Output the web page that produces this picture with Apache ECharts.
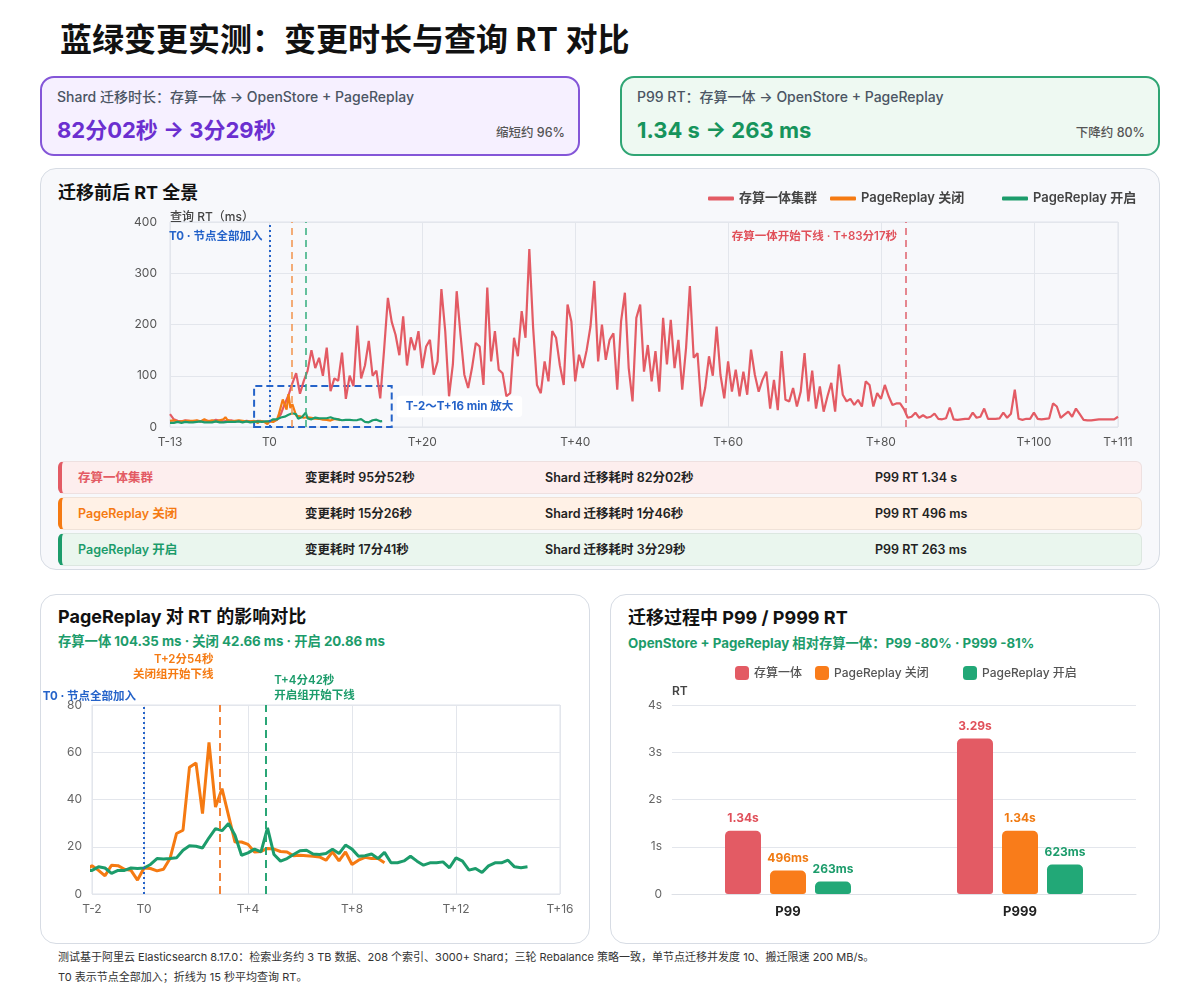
<!DOCTYPE html>
<html>
<head>
<meta charset="utf-8">
<title>蓝绿变更实测</title>
<script src="https://cdn.jsdelivr.net/npm/echarts@6.0.0/dist/echarts.min.js"></script>
<style>
    * { box-sizing: border-box; margin: 0; padding: 0; }
    body { width: 1200px; height: 1000px; background: #fff; position: relative; overflow: hidden;
        font-family: Inter, "Noto Sans CJK SC", sans-serif; color: #1f2328; }
    .abs { position: absolute; }
    .title { left: 60px; top: 21px; font-size: 32px; font-weight: 700; color: #111; line-height: 38px; white-space: nowrap; }
    .kpi { width: 540px; height: 80px; border-radius: 14px; border: 2px solid; top: 76px; }
    .kpi-purple { left: 40px; border-color: #8456d8; background: #f6f0ff; }
    .kpi-green { left: 620px; border-color: #2fa574; background: #eef9f2; }
    .kpi .lab { position: absolute; left: 15px; top: 9px; font-size: 14px; font-weight: 500; color: #4b5563; line-height: 20px; white-space: nowrap; }
    .kpi .val { position: absolute; left: 15px; top: 37px; font-size: 22px; font-weight: 700; line-height: 30px; white-space: nowrap; }
    .kpi .note { position: absolute; right: 13px; top: 47px; font-size: 12.5px; color: #555; font-weight: 500; line-height: 16px; }
    .card { border: 1.5px solid #d7dce4; border-radius: 16px; }
    .sec-title { font-size: 18px; font-weight: 700; color: #111; line-height: 24px; white-space: nowrap; }
    .sub { font-size: 13.3px; font-weight: 700; color: #1c9c6b; line-height: 18px; white-space: nowrap; }
    .row { left: 58px; width: 1084px; height: 33px; border-radius: 6px; border: 1px solid rgba(0, 0, 0, 0.06); border-left-width: 4px; }
    .row span { position: absolute; top: 7px; font-size: 12.5px; font-weight: 600; line-height: 18px; color: #222; white-space: nowrap; }
    .foot { left: 58px; top: 947px; font-size: 11px; line-height: 20px; color: #333; }
</style>
</head>
<body>
<div class="abs title">蓝绿变更实测：变更时长与查询 RT 对比</div>

<div class="abs kpi kpi-purple">
    <div class="lab">Shard 迁移时长：存算一体 → OpenStore + PageReplay</div>
    <div class="val" style="color:#6b2fd0">82分02秒 → 3分29秒</div>
    <div class="note">缩短约 96%</div>
</div>
<div class="abs kpi kpi-green">
    <div class="lab">P99 RT：存算一体 → OpenStore + PageReplay</div>
    <div class="val" style="color:#16945c">1.34 s → 263 ms</div>
    <div class="note">下降约 80%</div>
</div>

<div class="abs card" style="left:40px;top:168px;width:1120px;height:402px;background:#f7f8fb"></div>
<div class="abs sec-title" style="left:58px;top:181px">迁移前后 RT 全景</div>
<div id="rows"></div>
<div id="chartMain" class="abs" style="left:40px;top:168px;width:1120px;height:290px"></div>

<div class="abs card" style="left:40px;top:594px;width:550px;height:350px;background:#fff"></div>
<div class="abs sec-title" style="left:58px;top:605px">PageReplay 对 RT 的影响对比</div>
<div class="abs sub" style="left:58px;top:632px">存算一体 104.35 ms · 关闭 42.66 ms · 开启 20.86 ms</div>
<div id="chartZoom" class="abs" style="left:40px;top:594px;width:550px;height:350px"></div>

<div class="abs card" style="left:610px;top:594px;width:550px;height:350px;background:#fff"></div>
<div class="abs sec-title" style="left:628px;top:606px">迁移过程中 P99 / P999 RT</div>
<div class="abs sub" style="left:628px;top:634px">OpenStore + PageReplay 相对存算一体：P99 -80% · P999 -81%</div>
<div id="chartBar" class="abs" style="left:610px;top:594px;width:550px;height:350px"></div>

<div class="abs foot">
    测试基于阿里云 Elasticsearch 8.17.0：检索业务约 3 TB 数据、208 个索引、3000+ Shard；三轮 Rebalance 策略一致，单节点迁移并发度 10、搬迁限速 200 MB/s。<br>
    T0 表示节点全部加入；折线为 15 秒平均查询 RT。
</div>

<script>
// 15 秒平均 RT（ms），起点 T-13
var T_START = -13;
var MONO_STEP = 0.5;   // 存算一体：每 30 秒取一点
var REPLAY_STEP = 0.25; // PageReplay：每 15 秒一点

var rtMonolith = [
    25, 15, 12, 11, 13, 12, 10, 12, 11, 13,
    12, 11, 14, 12, 11, 12, 13, 11, 12, 10,
    12, 11, 10, 12, 11, 10, 11, 12, 14, 25,
    45, 62, 85, 105, 65, 90, 110, 150, 115, 135,
    100, 155, 70, 95, 90, 145, 55, 100, 80, 198,
    95, 120, 168, 100, 110, 56, 150, 252, 205, 180,
    140, 216, 120, 175, 150, 187, 115, 157, 170, 102,
    128, 269, 187, 60, 122, 265, 180, 102, 76, 115,
    164, 157, 82, 272, 128, 187, 112, 105, 60, 66,
    174, 138, 226, 174, 347, 193, 82, 66, 128, 89,
    187, 174, 120, 82, 239, 206, 89, 141, 115, 150,
    196, 285, 128, 200, 131, 170, 183, 73, 206, 262,
    115, 50, 213, 239, 108, 160, 89, 148, 69, 213,
    122, 209, 115, 170, 73, 154, 275, 135, 144, 40,
    76, 138, 100, 196, 102, 56, 128, 69, 112, 60,
    108, 63, 151, 102, 69, 92, 108, 36, 92, 33,
    148, 53, 50, 76, 40, 69, 144, 50, 110, 36,
    79, 30, 60, 86, 30, 122, 63, 50, 55, 43,
    53, 40, 89, 82, 40, 66, 55, 82, 60, 43,
    46, 46, 35, 18, 20, 28, 18, 23, 18, 20,
    26, 16, 15, 17, 38, 15, 14, 15, 16, 16,
    28, 18, 20, 36, 16, 16, 16, 17, 28, 18,
    26, 73, 16, 14, 16, 16, 28, 16, 15, 16,
    17, 46, 40, 18, 24, 30, 20, 36, 25, 14,
    13, 13, 14, 15, 15, 15, 15, 15, 20
];

var rtReplayOff = [
    12, 11, 13, 12, 10, 12, 11, 13, 12, 11, 12,
    14, 12, 11, 13, 12, 11, 12, 15, 13, 11, 12,
    13, 12, 11, 14, 13, 12, 15, 19, 14, 12, 11,
    13, 12, 14, 13, 11, 12, 10, 11, 12, 11, 10,
    12, 10, 7.7, 12.2, 12, 10.5, 10, 5.9,
    11, 10.8, 9.8, 10.5,
    15, 25.6, 27, 53.7,
    55.5, 34, 64.2, 36.8,
    44.6, 33.3, 22, 22,
    21, 17.8, 18, 19.3,
    19, 18, 17.8, 16.2,
    16.4, 16.2, 16, 15.7,
    14.3, 17.8, 14, 17.8,
    12.5, 14.3, 15.5, 15,
    15, 13.2
];

var rtReplayOn = [
    8, 9, 8, 9, 10, 9, 8, 9, 10, 9, 9,
    10, 9, 8, 10, 9, 11, 10, 9, 8, 9, 10,
    9, 10, 11, 10, 9, 10, 9, 8, 10, 11, 10,
    9, 10, 9, 11, 10, 9, 10, 11, 10, 9, 10,
    10, 11.5, 11, 8.7, 10, 10, 11, 10.8,
    11, 12.5, 15, 14.8,
    15, 15.3, 18.5, 20.4,
    20.2, 19.5, 23.8, 27.7,
    26.8, 29.8, 24.9, 16.4,
    17.4, 19, 17.8, 28,
    16.7, 13.9, 15, 16.7,
    18.3, 18.5, 16.9, 16.7,
    17.1, 19, 17.1, 20.7,
    19, 16, 16.2, 16.9,
    15, 17.6, 13.2, 13.2,
    14, 16, 13.9, 12.2,
    13.2, 13.2, 13.6, 11.1,
    15.3, 13.9, 10.1, 10.8,
    9.1, 11.9, 13.2, 13.2,
    14.3, 11.5, 11.1, 11.5
];

var xTicksMain = [-13, 0, 20, 40, 60, 80, 100, 111];
var xTicksZoom = [-2, 0, 4, 8, 12, 16];

// 关键时间点（分钟）
var evtT0 = 0;
var evtOffDown = 2.9;    // T+2分54秒
var evtOnDown = 4.7;     // T+4分42秒
var evtMonoDown = 83.28; // T+83分17秒

// P99 / P999（秒）
var barCategories = ['P99', 'P999'];
var barMonolith = [1.34, 3.29];
var barReplayOff = [0.496, 1.34];
var barReplayOn = [0.263, 0.623];

// 汇总行
var rowNames = ['存算一体集群', 'PageReplay 关闭', 'PageReplay 开启'];
var rowChange = ['95分52秒', '15分26秒', '17分41秒'];
var rowShard = ['82分02秒', '1分46秒', '3分29秒'];
var rowP99 = ['1.34 s', '496 ms', '263 ms'];

var FONT = 'Inter, "Noto Sans CJK SC", sans-serif';
var RED = '#e35b64', ORANGE = '#f57a12', GREEN = '#1c9c6b', BLUE = '#2563c9';
var rowColors = [RED, ORANGE, GREEN];
var rowBg = ['#fdeeee', '#fff1e6', '#eaf6ee'];

function toPairs(arr, start, step) {
    var out = [];
    for (var i = 0; i < arr.length; i++) {
        out.push([start + i * step, arr[i]]);
    }
    return out;
}

function fmtT(v) {
    if (v === 0) return 'T0';
    return v < 0 ? 'T' + v : 'T+' + v;
}

function fmtRT(v) {
    return v >= 1 ? v.toFixed(2) + 's' : Math.round(v * 1000) + 'ms';
}

// 汇总行
var rowsHtml = '';
for (var r = 0; r < rowNames.length; r++) {
    rowsHtml += '<div class="abs row" style="top:' + (461 + r * 36) + 'px;background:' + rowBg[r] +
        ';border-left-color:' + rowColors[r] + '">' +
        '<span style="left:16px;color:' + rowColors[r] + '">' + rowNames[r] + '</span>' +
        '<span style="left:243px">变更耗时 ' + rowChange[r] + '</span>' +
        '<span style="left:483px">Shard 迁移耗时 ' + rowShard[r] + '</span>' +
        '<span style="left:813px">P99 RT ' + rowP99[r] + '</span></div>';
}
document.getElementById('rows').innerHTML = rowsHtml;

function lineLegend(name, left) {
    return {
        data: [name], left: left, top: 19, icon: 'roundRect', itemWidth: 26, itemHeight: 4,
        textStyle: {color: '#444', fontSize: 13, fontWeight: 600, fontFamily: FONT}
    };
}

function vLine(x, color, type, width, label) {
    return {
        xAxis: x,
        lineStyle: {color: color, type: type, width: width},
        label: label || {show: false}
    };
}

// ---------- 迁移前后 RT 全景 ----------
var mainChart = echarts.init(document.getElementById('chartMain'));
mainChart.setOption({
    animation: false,
    textStyle: {fontFamily: FONT},
    title: {
        text: '查询 RT（ms）', left: 125, top: 38,
        textStyle: {color: '#444', fontSize: 12, fontWeight: 500, fontFamily: FONT}
    },
    legend: [
        lineLegend('存算一体集群', 663),
        lineLegend('PageReplay 关闭', 785),
        lineLegend('PageReplay 开启', 957)
    ],
    grid: {left: 130, right: 42, top: 54, bottom: 31, show: true, borderColor: '#dfe3ea', borderWidth: 1},
    xAxis: {
        type: 'value', min: -13, max: 111,
        axisLine: {show: false},
        axisTick: {show: false, customValues: xTicksMain},
        axisLabel: {customValues: xTicksMain, formatter: fmtT, color: '#555', fontSize: 12, margin: 9},
        splitLine: {show: true, lineStyle: {color: '#e3e6ec'}}
    },
    yAxis: {
        type: 'value', min: 0, max: 400, interval: 100,
        axisLine: {show: false}, axisTick: {show: false},
        axisLabel: {color: '#555', fontSize: 12, margin: 13},
        splitLine: {lineStyle: {color: '#e3e6ec'}}
    },
    series: [
        {
            name: '存算一体集群', type: 'line', showSymbol: false,
            data: toPairs(rtMonolith, T_START, MONO_STEP),
            lineStyle: {color: RED, width: 2.2}, itemStyle: {color: RED},
            markLine: {
                silent: true, symbol: ['none', 'none'],
                data: [
                    vLine(evtT0, BLUE, [2, 3], 2, {
                        show: true, position: 'end', distance: -15, formatter: 'T0 · 节点全部加入',
                        align: 'right', verticalAlign: 'middle', padding: [0, 7, 0, 0],
                        color: BLUE, fontSize: 11.5, fontWeight: 700
                    }),
                    vLine(evtOffDown, '#f2924c', [7, 5], 1.5),
                    vLine(evtOnDown, '#35ad7e', [7, 5], 1.5),
                    vLine(evtMonoDown, '#e0606c', [7, 5], 1.5, {
                        show: true, position: 'end', distance: -15, formatter: '存算一体开始下线 · T+83分17秒',
                        align: 'right', verticalAlign: 'middle', padding: [0, 9, 0, 0],
                        color: '#e0505a', fontSize: 11.5, fontWeight: 600
                    })
                ]
            },
            markArea: {
                silent: true,
                itemStyle: {color: 'rgba(0,0,0,0)', borderColor: BLUE, borderWidth: 2, borderType: [7, 4]},
                label: {
                    show: true, position: 'right', distance: 4, color: BLUE, fontSize: 11.5, fontWeight: 700,
                    backgroundColor: '#ffffff', padding: [5, 9], borderRadius: 4
                },
                data: [[{name: 'T-2～T+16 min 放大', xAxis: -2, yAxis: 0}, {xAxis: 16, yAxis: 80}]]
            }
        },
        {
            name: 'PageReplay 关闭', type: 'line', showSymbol: false,
            data: toPairs(rtReplayOff, T_START, REPLAY_STEP),
            lineStyle: {color: ORANGE, width: 2.2}, itemStyle: {color: ORANGE}
        },
        {
            name: 'PageReplay 开启', type: 'line', showSymbol: false,
            data: toPairs(rtReplayOn, T_START, REPLAY_STEP),
            lineStyle: {color: GREEN, width: 2.2}, itemStyle: {color: GREEN}
        }
    ]
});

// ---------- PageReplay 对 RT 的影响对比 ----------
var zoomChart = echarts.init(document.getElementById('chartZoom'));
zoomChart.setOption({
    animation: false,
    textStyle: {fontFamily: FONT},
    grid: {left: 52, right: 30, top: 111, bottom: 50, show: true, borderColor: '#dfe3ea', borderWidth: 1},
    xAxis: {
        type: 'value', min: -2, max: 16,
        axisLine: {show: false},
        axisTick: {show: false, customValues: xTicksZoom},
        axisLabel: {customValues: xTicksZoom, formatter: fmtT, color: '#666', fontSize: 12, margin: 9},
        splitLine: {show: true, lineStyle: {color: '#e3e6ec'}}
    },
    yAxis: {
        type: 'value', min: 0, max: 80, interval: 20,
        axisLine: {show: false}, axisTick: {show: false},
        axisLabel: {color: '#666', fontSize: 12, margin: 10},
        splitLine: {lineStyle: {color: '#e3e6ec'}}
    },
    series: [
        {
            name: 'PageReplay 关闭', type: 'line', showSymbol: false,
            data: toPairs(rtReplayOff, T_START, REPLAY_STEP),
            lineStyle: {color: ORANGE, width: 3}, itemStyle: {color: ORANGE},
            markLine: {
                silent: true, symbol: ['none', 'none'],
                data: [
                    vLine(evtT0, BLUE, [2, 3], 2, {
                        show: true, position: 'end', distance: 3, formatter: 'T0 · 节点全部加入',
                        align: 'right', verticalAlign: 'bottom', padding: [0, 8, 0, 0],
                        color: BLUE, fontSize: 11.5, fontWeight: 700
                    }),
                    vLine(evtOffDown, '#f2843a', [8, 5], 2, {
                        show: true, position: 'end', distance: 23, formatter: 'T+2分54秒\n关闭组开始下线',
                        align: 'right', verticalAlign: 'bottom', padding: [0, 6, 0, 0], lineHeight: 15,
                        color: ORANGE, fontSize: 11.5, fontWeight: 600
                    }),
                    vLine(evtOnDown, '#2aa676', [8, 5], 2, {
                        show: true, position: 'end', distance: 2, formatter: 'T+4分42秒\n开启组开始下线',
                        align: 'left', verticalAlign: 'bottom', padding: [0, 0, 0, 8], lineHeight: 15,
                        color: GREEN, fontSize: 11.5, fontWeight: 600
                    })
                ]
            }
        },
        {
            name: 'PageReplay 开启', type: 'line', showSymbol: false,
            data: toPairs(rtReplayOn, T_START, REPLAY_STEP),
            lineStyle: {color: GREEN, width: 3}, itemStyle: {color: GREEN}
        }
    ]
});

// ---------- 迁移过程中 P99 / P999 RT ----------
function barSeries(name, data, color, labelColor) {
    return {
        name: name, type: 'bar', data: data, barWidth: 36, barGap: '25%',
        itemStyle: {color: color, borderRadius: [5, 5, 3, 3]},
        label: {
            show: true, position: 'top', distance: 6, color: labelColor, fontSize: 12, fontWeight: 700,
            formatter: function (p) { return fmtRT(p.value); }
        }
    };
}

function barLegend(name, left) {
    return {
        data: [name], left: left, top: 67, icon: 'roundRect', itemWidth: 14, itemHeight: 14, itemGap: 0,
        textStyle: {color: '#555', fontSize: 12, fontWeight: 500, fontFamily: FONT}
    };
}

var barChart = echarts.init(document.getElementById('chartBar'));
barChart.setOption({
    animation: false,
    textStyle: {fontFamily: FONT},
    legend: [
        barLegend('存算一体', 120),
        barLegend('PageReplay 关闭', 200),
        barLegend('PageReplay 开启', 348)
    ],
    grid: {left: 62, right: 24, top: 111, bottom: 50},
    xAxis: {
        type: 'category', data: barCategories,
        axisLine: {lineStyle: {color: '#dde0e6'}}, axisTick: {show: false},
        axisLabel: {color: '#222', fontSize: 13, fontWeight: 700, margin: 12}
    },
    yAxis: {
        type: 'value', min: 0, max: 4, interval: 1,
        name: 'RT', nameGap: 8,
        nameTextStyle: {align: 'left', color: '#444', fontSize: 12, fontWeight: 600},
        axisLine: {show: false}, axisTick: {show: false},
        axisLabel: {color: '#666', fontSize: 12, margin: 10, formatter: function (v) { return v === 0 ? '0' : v + 's'; }},
        splitLine: {lineStyle: {color: '#e3e6ec'}}
    },
    series: [
        barSeries('存算一体', barMonolith, '#e35b64', '#e0505a'),
        barSeries('PageReplay 关闭', barReplayOff, '#f97c1a', '#f07a12'),
        barSeries('PageReplay 开启', barReplayOn, '#22a877', '#1c9c6b')
    ]
});
</script>
</body>
</html>
